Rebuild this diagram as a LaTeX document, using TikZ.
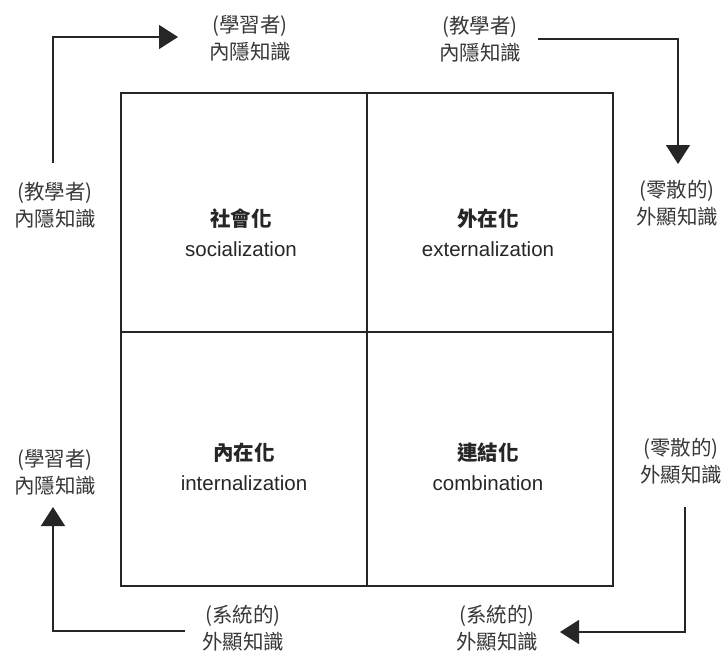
\documentclass[tikz,border=0pt]{standalone}
\usepackage{fontspec}
\setmainfont{Liberation Sans}
\newfontfamily\cjk{Noto Sans CJK TC}
\usetikzlibrary{arrows.meta}
\tikzset{
  lbl/.style={align=center, inner sep=0pt, text=black!78, font=\cjk\fontsize{20.5}{27}\selectfont},
  cell/.style={align=center, inner sep=0pt, text=black!85, font=\fontsize{20.5}{30}\selectfont},
  frame/.style={line width=1.4pt, draw=black!85},
  flow/.style={line width=1.4pt, draw=black!85, -{Triangle[length=19pt,width=24pt]}}
}
\begin{document}
\begin{tikzpicture}[x=1pt,y=-1pt]
\useasboundingbox (0,0) rectangle (726,654);
% square
\draw[frame] (121,93) rectangle (613,586);
\draw[frame] (367,93) -- (367,586);
\draw[frame] (121,332) -- (613,332);
% cells
\node[cell] (soc) at (241,233) {{\cjk\bfseries 社會化}\\socialization};
\node[cell] (ext) at (488,233) {{\cjk\bfseries 外在化}\\externalization};
\node[cell] (int) at (244,467) {{\cjk\bfseries 內在化}\\internalization};
\node[cell] (com) at (488,467) {{\cjk\bfseries 連結化}\\combination};
% outer labels
\node[lbl] (tl) at (250,38) {(學習者)\\內隱知識};
\node[lbl] (tr) at (480,39) {(教學者)\\內隱知識};
\node[lbl] (lu) at (55,205) {(教學者)\\內隱知識};
\node[lbl] (ll) at (55,472) {(學習者)\\內隱知識};
\node[lbl] (ru) at (677,203) {(零散的)\\外顯知識};
\node[lbl] (rl) at (681,461) {(零散的)\\外顯知識};
\node[lbl] (bl) at (243,628) {(系統的)\\外顯知識};
\node[lbl] (br) at (497,628) {(系統的)\\外顯知識};
% connector points
\coordinate (a1s) at (53,163);
\coordinate (a1c) at (53,37);
\coordinate (a1e) at (178,37);
\coordinate (a2s) at (538,39);
\coordinate (a2c) at (678,39);
\coordinate (a2e) at (678,164);
\coordinate (a3s) at (685,507);
\coordinate (a3c) at (685,632);
\coordinate (a3e) at (560,632);
\coordinate (a4s) at (185,631);
\coordinate (a4c) at (53,631);
\coordinate (a4e) at (53,507);
\draw[flow] (a1s) -- (a1c) -- (a1e);
\draw[flow] (a2s) -- (a2c) -- (a2e);
\draw[flow] (a3s) -- (a3c) -- (a3e);
\draw[flow] (a4s) -- (a4c) -- (a4e);
\end{tikzpicture}
\end{document}
